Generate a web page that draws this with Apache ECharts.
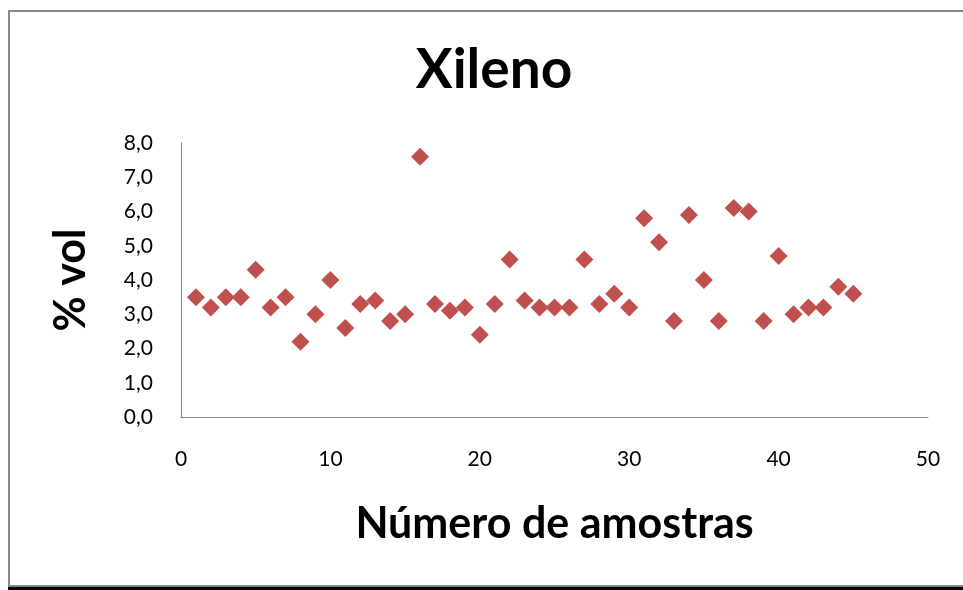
<!DOCTYPE html>
<html>
<head>
<meta charset="utf-8">
<script src="https://cdn.jsdelivr.net/npm/echarts@6/dist/echarts.min.js"></script>
<style>html,body{margin:0;padding:0;background:#fff;}#c{width:963px;height:590px;}</style>
</head>
<body>
<div id="c"></div>
<script>
const sampleNumbers = [1,2,3,4,5,6,7,8,9,10,11,12,13,14,15,16,17,18,19,20,21,22,23,24,25,26,27,28,29,30,31,32,33,34,35,36,37,38,39,40,41,42,43,44,45];
const xylenePercent = [3.5,3.2,3.5,3.5,4.3,3.2,3.5,2.2,3.0,4.0,2.6,3.3,3.4,2.8,3.0,7.6,3.3,3.1,3.2,2.4,3.3,4.6,3.4,3.2,3.2,3.2,4.6,3.3,3.6,3.2,5.8,5.1,2.8,5.9,4.0,2.8,6.1,6.0,2.8,4.7,3.0,3.2,3.2,3.8,3.6];
const chartTitle = 'Xileno';
const xAxisTitle = 'Número de amostras';
const yAxisTitle = '% vol';

const points = sampleNumbers.map((n, i) => [n, xylenePercent[i]]);
const chart = echarts.init(document.getElementById('c'), null, {renderer: 'canvas'});
const fam = 'Lato, "Open Sans", sans-serif';
chart.setOption({
  animation: false,
  backgroundColor: '#fff',
  title: {
    text: chartTitle, left: 489, top: 38, textAlign: 'center',
    textStyle: {fontFamily: fam, fontSize: 55, fontWeight: 'bold', color: '#000'}
  },
  grid: {left: 181, top: 143, width: 747, height: 274, containLabel: false},
  xAxis: {
    type: 'value', min: 0, max: 50, interval: 10,
    name: xAxisTitle, nameLocation: 'middle', nameGap: 86,
    nameTextStyle: {fontFamily: fam, fontSize: 43, fontWeight: 'bold', color: '#000'},
    axisLine: {show: true, lineStyle: {color: '#868686', width: 1}},
    axisTick: {show: false},
    splitLine: {show: false},
    axisLabel: {fontFamily: fam, fontSize: 21, color: '#000', margin: 32}
  },
  yAxis: {
    type: 'value', min: 0, max: 8, interval: 1,
    name: yAxisTitle, nameLocation: 'middle', nameGap: 88, nameRotate: 90,
    nameTextStyle: {fontFamily: fam, fontSize: 43, fontWeight: 'bold', color: '#000'},
    axisLine: {show: true, lineStyle: {color: '#868686', width: 1}},
    axisTick: {show: false},
    splitLine: {show: false},
    axisLabel: {fontFamily: fam, fontSize: 21, color: '#000', margin: 28,
      formatter: v => v.toFixed(1).replace('.', ',')}
  },
  series: [{
    type: 'scatter', data: points, symbol: 'diamond', symbolSize: 18,
    itemStyle: {color: '#C0504D', opacity: 1}
  }],
  graphic: [
    {type: 'rect', shape: {x: 8, y: 10, width: 955, height: 2}, style: {fill: '#888'}},
    {type: 'rect', shape: {x: 8, y: 10, width: 2, height: 577}, style: {fill: '#888'}},
    {type: 'rect', shape: {x: 8, y: 585, width: 955, height: 2}, style: {fill: '#888'}},
    {type: 'rect', shape: {x: 8, y: 587, width: 955, height: 3}, style: {fill: '#000'}}
  ]
});
</script>
</body>
</html>
